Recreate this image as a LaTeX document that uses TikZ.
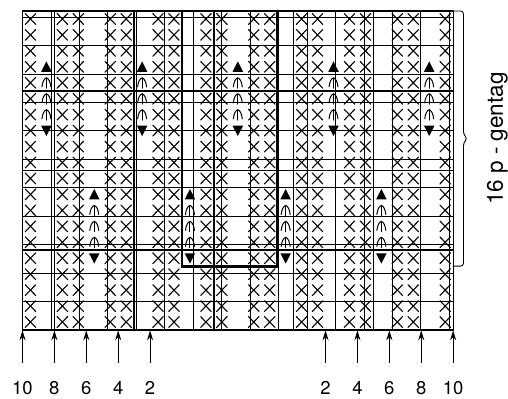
\documentclass[tikz,border=0pt]{standalone}
\usepackage{fontspec}
\setmainfont{TeX Gyre Heros}
\usetikzlibrary{arrows.meta}

\tikzset{
  gridline/.style={line width=0.8pt},
  countline/.style={line width=1.6pt},
  repeatline/.style={line width=2.8pt,line join=miter},
  crossline/.style={line width=1.1pt,line cap=round},
  upmark/.pic={\fill (-0.33,-0.31) -- (0.33,-0.31) -- (0,0.34) -- cycle;},
  downmark/.pic={\fill (-0.33,0.31) -- (0.33,0.31) -- (0,-0.34) -- cycle;},
  forkmark/.pic={
    \draw[line width=1pt] (0,-0.34) -- (0,0.31);
    \draw[line width=1pt] (-0.28,-0.26) .. controls (-0.25,0.05) and (-0.14,0.27) .. (0,0.31)
      .. controls (0.14,0.27) and (0.25,0.05) .. (0.28,-0.26);},
  arr/.style={line width=1.1pt,-{Stealth[length=10pt,width=6pt]}},
  stitchno/.style={font=\fontsize{18.5}{22}\selectfont,inner sep=0pt},
  gentag/.style={font=\fontsize{22.5}{26}\selectfont,inner sep=0pt,rotate=90,anchor=base}
}

\begin{document}
\begin{tikzpicture}[x=15.95pt,y=15.95pt,line cap=round,line join=round]
  \useasboundingbox (-1.41,-4.27) rectangle (30.44,20.69);
  % grid
  \draw[gridline] (0,0) grid (27,20);
  \foreach \x in {2,7,12,17,22}
    \draw[countline] (\x,0) -- (\x,20);
  \foreach \y in {5,10,15}
    \draw[countline] (0,\y) -- (27,\y);
  \draw[line width=1.2pt] (0,0) rectangle (27,20);
  % crossed cells, every third column left plain
  \foreach \x in {0,...,26} {
    \pgfmathtruncatemacro{\m}{mod(\x,3)}
    \ifnum\m=1\else
      \foreach \y in {0,...,19} {
        \draw[crossline] (\x+0.17,\y+0.16) -- (\x+0.83,\y+0.84);
        \draw[crossline] (\x+0.17,\y+0.84) -- (\x+0.83,\y+0.16);
      }
    \fi
  }
  % cables, upper row
  \foreach \x in {1,7,13,19,25} {
    \pic at (\x+0.5,16.5) {upmark};
    \foreach \y in {13,14,15}
      \pic at (\x+0.5,\y+0.5) {forkmark};
    \pic at (\x+0.5,12.5) {downmark};
  }
  % cables, lower row
  \foreach \x in {4,10,16,22} {
    \pic at (\x+0.5,8.5) {upmark};
    \foreach \y in {5,6,7}
      \pic at (\x+0.5,\y+0.5) {forkmark};
    \pic at (\x+0.5,4.5) {downmark};
  }
  % repeat
  \draw[repeatline] (10,20) -- (10,4) -- (16,4) -- (16,20);
  \draw[line width=0.9pt,rounded corners=3pt] (27,20) -- (27.65,20) -- (27.65,12.25)
    -- (27.9,12) -- (27.65,11.75) -- (27.65,4) -- (27,4);
  \node[gentag] (rep) at (30.12,12) {16 p - gentag};
  % stitch counts
  \foreach \x/\n/\s in {0/10/l,2/8/l,4/6/l,6/4/l,8/2/l,19/2/r,21/4/r,23/6/r,25/8/r,27/10/r} {
    \coordinate (t\s\n) at (\x,-2.05);
    \coordinate (b\s\n) at (\x,-0.02);
    \draw[arr] (t\s\n) -- (b\s\n);
    \node[stitchno] (n\s\n) at (\x,-3.66) {\n};
  }
\end{tikzpicture}
\end{document}
